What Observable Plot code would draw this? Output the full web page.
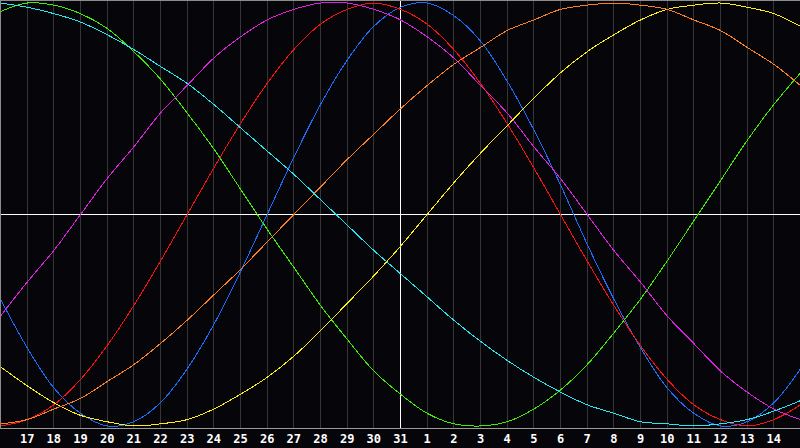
<!DOCTYPE html>
<html>
<head>
<meta charset="utf-8">
<script src="https://cdn.jsdelivr.net/npm/d3@7"></script>
<script src="https://cdn.jsdelivr.net/npm/@observablehq/plot@0.6"></script>
<style>
  html, body { margin: 0; padding: 0; background: #060509; }
  #chart { width: 800px; height: 448px; overflow: hidden; }
</style>
</head>
<body>
<div id="chart"></div>
<script>
// Day-of-month labels for each column (index 0 = left edge, 15 = centre line)
const dayLabels = [16,17,18,19,20,21,22,23,24,25,26,27,28,29,30,31,1,2,3,4,5,6,7,8,9,10,11,12,13,14,15];
const labelledDays = [1,2,3,4,5,6,7,8,9,10,11,12,13,14,15,16,17,18,19,20,21,22,23,24,25,26,27,28,29];

const seriesNames  = ["Physical", "Emotional", "Intellectual", "Intuitive", "Aesthetic", "Awareness", "Spiritual"];
const seriesColors = ["#1a6eff", "#ff1010", "#3cf000", "#e020e0", "#ffee10", "#ff8020", "#22e8f0"];

// Values in percent, one per day column (31 columns)
const physical     = [-40,-63,-82,-94,-100,-98,-89,-73,-52,-27,0,27,52,73,89,98,100,94,82,63,40,14,-14,-40,-63,-82,-94,-100,-98,-89,-73];
const emotional    = [-100,-97,-90,-78,-62,-43,-22,0,22,43,62,78,90,97,100,97,90,78,62,43,22,0,-22,-43,-62,-78,-90,-97,-100,-97,-90];
const intellectual = [96,100,99,95,88,77,64,48,31,12,-7,-25,-43,-59,-74,-85,-94,-99,-100,-98,-92,-83,-71,-56,-40,-22,-3,16,35,52,67];
const intuitive    = [-48,-32,-17,0,17,32,48,61,74,84,92,97,100,100,97,92,84,74,61,48,32,17,0,-17,-32,-48,-61,-74,-84,-92,-97];
const aesthetic    = [-72,-81,-89,-95,-98,-100,-99,-97,-92,-85,-77,-67,-55,-42,-29,-15,0,15,29,42,55,67,77,85,92,97,99,100,98,95,89];
const awareness    = [-99,-97,-92,-87,-79,-71,-61,-50,-38,-26,-13,0,13,26,38,50,61,71,79,87,92,97,99,100,99,97,92,87,79,71,61];
const spiritual    = [100,98,95,91,85,78,70,62,52,41,30,19,7,-5,-17,-28,-39,-50,-60,-69,-77,-84,-90,-94,-98,-99,-100,-99,-97,-93,-88];

const seriesValues = [physical, emotional, intellectual, intuitive, aesthetic, awareness, spiritual];

const rows = [];
seriesNames.forEach((name, k) => {
  seriesValues[k].forEach((v, i) => rows.push({series: name, day: i, value: v}));
});

const yMin = -101.2, yMax = 101.2;

const chart = Plot.plot({
  width: 800,
  height: 448,
  marginTop: 0,
  marginBottom: 20,
  marginLeft: 0,
  marginRight: 0,
  style: {background: "#060509", color: "#ffffff", overflow: "hidden"},
  x: {domain: [0, dayLabels.length - 1], axis: null},
  y: {domain: [yMin, yMax], axis: null},
  color: {domain: seriesNames, range: seriesColors},
  marks: [
    Plot.ruleX(d3.range(0, dayLabels.length), {stroke: "#363636", strokeWidth: 1, shapeRendering: "crispEdges"}),
    Plot.ruleY([0], {stroke: "#ffffff", strokeWidth: 1, shapeRendering: "crispEdges"}),
    Plot.ruleX([15], {stroke: "#ffffff", strokeWidth: 1, shapeRendering: "crispEdges"}),
    Plot.line(rows, {
      x: "day", y: "value", z: "series", stroke: "series",
      curve: "catmull-rom", strokeWidth: 1, shapeRendering: "crispEdges"
    }),
    Plot.ruleX([0], {stroke: "#8c8c8c", strokeWidth: 1, shapeRendering: "crispEdges"}),
    Plot.ruleY([yMax], {stroke: "#8c8c8c", strokeWidth: 1, shapeRendering: "crispEdges"}),
    Plot.ruleY([yMin], {stroke: "#9a9a9a", strokeWidth: 1, shapeRendering: "crispEdges"}),
    Plot.axisX(labelledDays, {
      anchor: "bottom",
      tickSize: 0,
      tickPadding: 6,
      tickFormat: (i) => String(dayLabels[i]),
      fill: "#ffffff",
      fontSize: 12,
      fontWeight: "bold",
      fontFamily: "DejaVu Sans Mono",
      label: null
    })
  ]
});
document.getElementById("chart").appendChild(chart);
</script>
</body>
</html>
